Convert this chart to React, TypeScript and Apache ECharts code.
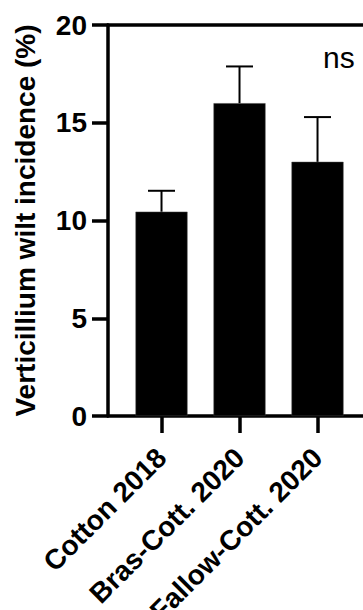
import React, { useEffect, useRef } from "react";
import * as echarts from "echarts";

const categories = ["Cotton 2018", "Bras-Cott. 2020", "Fallow-Cott. 2020"];
const means = [10.45, 16.0, 13.0];
const errors = [1.07, 1.88, 2.29];
const yTicks = [0, 5, 10, 15, 20];
const annotation = "ns";

const FONT = "'Liberation Sans', Arial, Helvetica, sans-serif";

export default function App() {
  const ref = useRef<HTMLDivElement>(null);
  useEffect(() => {
    if (!ref.current) return;
    const chart = echarts.init(ref.current, undefined, { renderer: "svg" });
    const idx = categories.map((_, i) => i);
    const xMin = -0.686;
    const xMax = 2.583;
    chart.setOption({
      animation: false,
      backgroundColor: "#ffffff",
      grid: {
        left: 108,
        right: 0,
        top: 25,
        bottom: 194,
        containLabel: false,
        outerBoundsMode: "none",
      },
      xAxis: [
        {
          type: "value",
          min: xMin,
          max: xMax,
          splitLine: { show: false },
          axisLine: { show: true, onZero: false, lineStyle: { color: "#000", width: 3.5 } },
          axisTick: {
            show: true,
            customValues: idx,
            length: 17,
            lineStyle: { color: "#000", width: 3.5 },
          },
          axisLabel: {
            show: true,
            customValues: idx,
            rotate: 45,
            margin: 37,
            formatter: (v: number) => categories[Math.round(v)] ?? "",
            color: "#000",
            fontFamily: FONT,
            fontWeight: "bold",
            fontSize: 28,
          },
        },
        {
          type: "value",
          position: "top",
          min: xMin,
          max: xMax,
          splitLine: { show: false },
          axisLine: { show: true, onZero: false, lineStyle: { color: "#000", width: 3.5 } },
          axisTick: { show: false },
          axisLabel: { show: false },
        },
      ],
      yAxis: {
        type: "value",
        min: yTicks[0],
        max: yTicks[yTicks.length - 1],
        interval: 5,
        name: "Verticillium wilt incidence (%)",
        nameLocation: "middle",
        nameGap: 69,
        nameTextStyle: {
          color: "#000",
          fontFamily: FONT,
          fontWeight: "bold",
          fontSize: 28,
        },
        splitLine: { show: false },
        axisLine: { show: true, onZero: false, lineStyle: { color: "#000", width: 3.5 } },
        axisTick: { show: true, length: 16, lineStyle: { color: "#000", width: 3.5 } },
        axisLabel: {
          margin: 21,
          color: "#000",
          fontFamily: FONT,
          fontWeight: "bold",
          fontSize: 28,
        },
      },
      series: [
        {
          type: "bar",
          data: means.map((m, i) => [i, m]),
          barWidth: 52,
          itemStyle: { color: "#000", borderColor: "#444", borderWidth: 0.5 },
          z: 2,
        },
        {
          type: "custom",
          data: means.map((m, i) => [i, m, errors[i]]),
          z: 3,
          renderItem: (params: any, api: any) => {
            const x = api.value(0);
            const y = api.value(1);
            const e = api.value(2);
            const base = api.coord([x, y]);
            const top = api.coord([x, y + e]);
            const half = 13.5;
            const style = { stroke: "#000", lineWidth: 2 };
            return {
              type: "group",
              children: [
                { type: "line", shape: { x1: base[0], y1: base[1], x2: top[0], y2: top[1] }, style },
                { type: "line", shape: { x1: top[0] - half, y1: top[1], x2: top[0] + half, y2: top[1] }, style },
              ],
            };
          },
        },
      ],
      graphic: [
        {
          type: "text",
          left: 323,
          top: 42,
          style: {
            text: annotation,
            fill: "#000",
            font: `30px ${FONT}`,
          },
        },
      ],
    });
    return () => chart.dispose();
  }, []);
  return (
    <div
      ref={ref}
      style={{ position: "absolute", left: 0, top: 0, width: 363, height: 610 }}
    />
  );
}
